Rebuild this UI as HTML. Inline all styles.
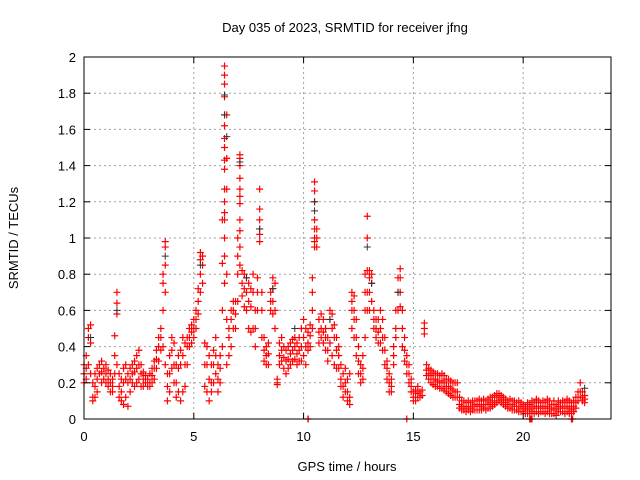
<!DOCTYPE html>
<html><head><meta charset="utf-8"><style>
body{margin:0;background:#fff;}
svg{display:block;font-family:"Liberation Sans",sans-serif;}
</style></head><body>
<svg id="chart" width="640" height="480" xmlns="http://www.w3.org/2000/svg">
<rect width="640" height="480" fill="#fff"/>
<text x="345" y="32" font-size="13" text-anchor="middle" fill="#000">Day 035 of 2023, SRMTID for receiver jfng</text>
<text x="347" y="471" font-size="13" text-anchor="middle" fill="#000">GPS time / hours</text>
<text x="18" y="238" font-size="13" text-anchor="middle" fill="#000" transform="rotate(-90 18 238)">SRMTID / TECUs</text>
<g id="grid"></g>
<g id="marks"></g>
<g id="axes"></g>
</svg>
<script>
const xTicks=[0,5,10,15,20];
const yTicks=[0,0.2,0.4,0.6,0.8,1,1.2,1.4,1.6,1.8,2];
const yTickLabels=["0","0.2","0.4","0.6","0.8","1","1.2","1.4","1.6","1.8","2"];
const hourStart=0, hourStep=0.1;
const redGroups=[
[.3,.25,.2],[.35,.28,.22],[.5,.45,.3],[.52,.42,.25],[.2,.12,.1],[.25,.18,.12],[.28,.22,.15],[.3,.25],[.32,.26,.2],[.28,.22],
[.3,.25,.2],[.27,.22,.18],[.25,.2,.15],[.22,.18,.15],[.46,.35,.25],[.7,.64,.58,.3],[.25,.18,.12],[.22,.15,.1],[.28,.2,.08],[.3,.22,.12],
[.25,.2,.07],[.28,.22,.15],[.3,.25,.2],[.32,.26,.18],[.35,.28,.2],[.38,.3,.22],[.3,.25,.18],[.26,.22,.18],[.24,.2],[.22,.18],
[.25,.2,.18],[.28,.24,.2],[.32,.28,.22],[.38,.33,.28],[.45,.4,.32],[.5,.45,.38],[.8,.75,.6,.4],[.98,.95,.85,.7,.3],[.25,.18,.1],[.35,.25,.15],
[.45,.38,.28],[.42,.3,.2],[.3,.2,.12],[.35,.28,.15],[.38,.3,.1],[.45,.35,.15],[.42,.3,.18],[.45,.4,.3],[.5,.45,.4],[.52,.48,.42],
[.55,.5,.45],[.6,.55,.5],[.72,.65,.58],[.92,.88,.8,.7],[.9,.85,.75],[.42,.3,.18],[.4,.3,.15],[.35,.22,.1],[.3,.2,.15],[.38,.3,.2],
[.45,.35,.25],[.3,.22,.15],[.35,.28,.2],[1.1,.86,.6,.4],[1.95,1.9,1.85,1.78,1.68,1.62,1.55,1.5,1.43,1.38,1.27,1.2,1.14,1.1,1.0,.9,.75],[1.68,1.44,1.27,.8,.55,.3],[.5,.45,.35],[.6,.55,.4],[.65,.6,.5],[.65,.58,.5],
[1.0,.9,.8,.65],[1.46,1.44,1.4,1.33,1.27,1.23,1.19,1.1,1.04,.95,.85],[.82,.75,.68],[.8,.72,.62],[.78,.7,.6],[.75,.65,.5],[.72,.62,.48],[.8,.7,.5],[.6,.5,.4],[.78,.7,.6],
[1.27,1.16,1.1,1.05,1.02,.98],[.7,.6,.45],[.45,.38,.32],[.4,.35,.3],[.42,.36,.3],[.7,.65,.6],[.78,.72,.65,.58],[.75,.6,.5],[.22,.2,.19],[.42,.35,.3],
[.45,.38,.32],[.4,.34,.28],[.38,.32,.25],[.4,.33,.28],[.42,.36,.3],[.44,.38,.32],[.45,.4,.33],[.42,.36,.3],[.45,.38,.32],[.5,.4,.32],
[.55,.45,.35],[.5,.4,.3],[.48,.42,.38],[.52,.46,.4],[.78,.7,.6,.5],[1.31,1.26,1.2,1.1,1.05,1.0,.98,.95],[1.05,1.0,.95],[.55,.48,.42],[.58,.5,.45],[.55,.48,.42],
[.5,.45,.38],[.45,.38,.32],[.6,.55,.42],[.58,.5,.35],[.52,.45,.3],[.45,.38,.28],[.4,.35,.28],[.3,.22,.18],[.25,.18,.12],[.28,.2,.15],
[.22,.15,.1],[.25,.12,.08],[.7,.65,.6,.5],[.68,.6,.55,.45],[.55,.45,.35],[.4,.32,.25],[.3,.25,.2],[.35,.28,.22],[.8,.7,.6,.45],[1.12,1.0,.82,.7,.6],
[.82,.78,.7,.6],[.8,.75,.65],[.6,.55,.5],[.55,.5,.45],[.55,.48,.42],[.6,.5,.42],[.55,.45,.38],[.45,.38,.3],[.32,.28,.22],[.25,.2,.15],
[.22,.18,.15],[.4,.35,.3],[.6,.5,.45],[.78,.7,.6],[.83,.78,.7,.62],[.6,.5,.4],[.45,.38,.32],[.35,.3,.25],[.3,.25,.2],[.22,.18,.15],
[.15,.12,.1],[.16,.12,.1],[.18,.14,.12],[.15,.12],[.16,.13],[.53,.5,.47],[.3,.27,.24],[.28,.25,.22],[.27,.24,.2],[.26,.22,.19],
[.25,.22,.18],[.25,.21,.18],[.24,.2,.17],[.25,.21,.17],[.24,.2,.16],[.22,.18,.15],[.22,.18,.14],[.21,.17,.13],[.2,.16,.12],[.2,.15,.12],
[.2,.15,.12],[.12,.08,.06],[.1,.07,.05],[.1,.07,.05],[.09,.06,.04],[.1,.07,.05],[.09,.06,.04],[.1,.07,.05],[.1,.08,.05],[.1,.07,.05],
[.11,.08,.05],[.1,.07,.05],[.11,.08,.06],[.1,.08,.05],[.11,.08,.06],[.12,.09,.06],[.12,.1,.07],[.13,.1,.08],[.14,.12,.09],[.14,.12,.1],
[.13,.11,.09],[.12,.1,.08],[.11,.09,.07],[.1,.08,.06],[.11,.08,.06],[.1,.08,.05],[.1,.07,.05],[.09,.07,.05],[.1,.07,.04],[.09,.06,.04],
[.08,.06,.04],[.07,.05,.03],[.09,.06,.03],[.08,.05,.03],[.1,.07,.04],[.09,.06,.03],[.11,.07,.04],[.1,.06,.03],[.09,.06,.04],[.1,.07,.04],
[.09,.06,.03],[.11,.07,.04],[.1,.06,.03],[.08,.05,.03],[.1,.06,.03],[.08,.05,.02],[.1,.07,.04],[.09,.06,.04],[.1,.07,.04],[.09,.06,.03],
[.11,.07,.04],[.1,.06,.03],[.09,.05,.03],[.1,.07,.04],[.12,.09,.06],[.15,.12,.1],[.2,.15,.12],[.15,.12,.1],[.13,.11,.09]
];
const blackHours=[0.3,1.5,3.7,5.3,6.4,6.4,6.5,7.1,7.4,8.0,8.6,9.6,10.5,10.5,11.2,12.9,13.1,14.3,22.8];
const blackValues=[.45,.6,.9,.85,1.68,1.79,1.56,1.42,.78,1.05,.72,.5,1.2,1.15,.55,.95,.75,.7,.17];
const zeroHours=[10.2,10.21,14.7,20.3,20.35,20.4,22.2,22.25];
const NS="http://www.w3.org/2000/svg";
const L=84,R=611,T=57,B=419,XMAX=24,YMAX=2;
const X=h=>L+(R-L)*h/XMAX, Y=v=>B-(B-T)*v/YMAX;
function mk(tag,attrs,parent){const e=document.createElementNS(NS,tag);for(const k in attrs)e.setAttribute(k,attrs[k]);parent.appendChild(e);return e;}
const grid=document.getElementById('grid'),marks=document.getElementById('marks'),axes=document.getElementById('axes');
yTicks.forEach((v,i)=>{
 if(v>0&&v<YMAX){const g=mk('line',{x1:L,x2:R,y1:Y(v),y2:Y(v),stroke:'#a0a0a0','stroke-dasharray':'2,3','stroke-width':1},grid);
 
 }
 mk('line',{x1:L,x2:L+6,y1:Y(v),y2:Y(v),stroke:'#000'},axes);
 mk('line',{x1:R,x2:R-6,y1:Y(v),y2:Y(v),stroke:'#000'},axes);
 const t=mk('text',{x:L-8,y:Y(v)+5,'font-size':13,'text-anchor':'end',fill:'#000'},axes);t.textContent=yTickLabels[i];
 
 
});
xTicks.forEach(h=>{
 if(h>0){const g=mk('line',{x1:X(h),x2:X(h),y1:T,y2:B,stroke:'#a0a0a0','stroke-dasharray':'2,3','stroke-width':1},grid);
 
 }
 mk('line',{x1:X(h),x2:X(h),y1:B,y2:B-6,stroke:'#000'},axes);
 mk('line',{x1:X(h),x2:X(h),y1:T,y2:T+6,stroke:'#000'},axes);
 const t=mk('text',{x:X(h),y:B+22,'font-size':13,'text-anchor':'middle',fill:'#000'},axes);t.textContent=String(h);
 
 
});
const fr=mk('rect',{x:L,y:T,width:R-L,height:B-T,fill:'none',stroke:'#000','stroke-width':1},axes);


let dR='';
redGroups.forEach((grp,i)=>{const h=hourStart+i*hourStep;grp.forEach(v=>{const x=X(h),y=Y(v);dR+=`M${x-3.5},${y}h7M${x},${y-3.5}v7`;});});
let dB='';
blackHours.forEach((h,i)=>{const x=X(h),y=Y(blackValues[i]);dB+=`M${x-3.5},${y}h7M${x},${y-3.5}v7`;});
let dZ='';
zeroHours.forEach(h=>{const x=X(h),y=Y(0);dZ+=`M${x-3.5},${y}h7M${x},${y-3.5}v7`;});
const pr=mk('path',{d:dR+dZ,stroke:'#f00','stroke-width':1.2,fill:'none'},marks);


const pb=mk('path',{d:dB,stroke:'#333','stroke-width':1,fill:'none'},marks);


</script>
</body></html>
